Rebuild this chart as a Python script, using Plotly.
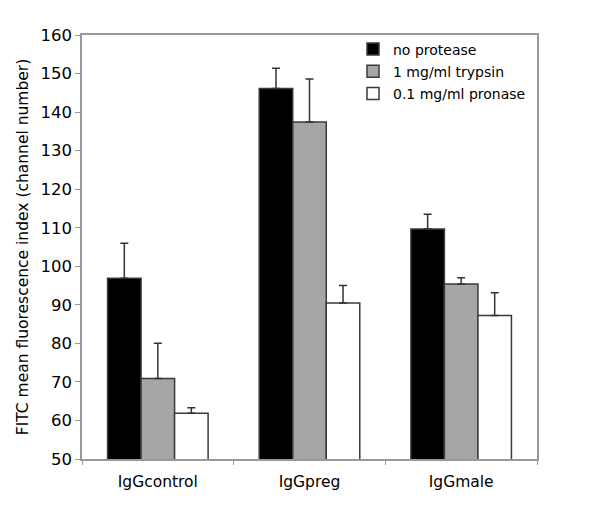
import plotly.graph_objects as go

categories = ["IgGcontrol", "IgGpreg", "IgGmale"]
series_names = ["no protease", "1 mg/ml trypsin", "0.1 mg/ml pronase"]
no_protease = [96.9, 146.1, 109.7]
no_protease_err = [9.1, 5.3, 3.8]
trypsin = [70.9, 137.4, 95.4]
trypsin_err = [9.1, 11.2, 1.6]
pronase = [61.9, 90.5, 87.2]
pronase_err = [1.4, 4.5, 5.9]
y_ticks = [50, 60, 70, 80, 90, 100, 110, 120, 130, 140, 150, 160]

FONT = "DejaVu Sans"
colors = ["#000000", "#a6a6a6", "#ffffff"]

fig = go.Figure()
for i, (name, vals, errs, col) in enumerate(zip(series_names,
                                 [no_protease, trypsin, pronase],
                                 [no_protease_err, trypsin_err, pronase_err],
                                 colors)):
    fig.add_trace(go.Bar(
        x=categories, y=vals, name=name, legendgroup=f"g{i}",
        marker=dict(color=col, line=dict(color="#3a3a3a", width=1.5)),
        error_y=dict(type="data", array=errs, arrayminus=[0] * len(errs),
                     symmetric=False, color="#333333", thickness=1.5, width=4),
    ))

# page has an 8px body margin; figure is sized so the plot area lands at x 82..537, y 35..459
fig.update_layout(
    width=592, height=504,
    margin=dict(l=74, r=63, t=27, b=53),
    paper_bgcolor="white", plot_bgcolor="white",
    barmode="group", bargap=0.337, bargroupgap=0,
    font=dict(family=FONT, color="black", size=15),
    showlegend=True,
    legend=dict(x=(353 - 82) / 455, xanchor="left", y=1 + 1.5 / 424, yanchor="top",
                bgcolor="rgba(0,0,0,0)",
                font=dict(family=FONT, size=14, color="black"),
                itemwidth=30, tracegroupgap=1),
)

fig.update_xaxes(
    showline=True, linecolor="#999999", linewidth=1.5, mirror=True,
    ticks="outside", tickson="boundaries", ticklen=4, tickcolor="#999999",
    tickfont=dict(family=FONT, size=15.5, color="black"), ticklabelstandoff=8,
    showgrid=False, automargin=False,
)
fig.update_yaxes(
    range=[50, 160], tickvals=y_ticks, ticktext=[str(v) for v in y_ticks],
    showline=True, linecolor="#999999", linewidth=1.5, mirror=True,
    ticks="outside", ticklen=5, tickcolor="#999999",
    tickfont=dict(family=FONT, size=16.5, color="black"),
    showgrid=False, zeroline=False, automargin=False,
    title=dict(text="FITC mean fluorescence index (channel number)",
               font=dict(family=FONT, size=15.5, color="black"), standoff=8),
)

fig.write_html("out.html")
